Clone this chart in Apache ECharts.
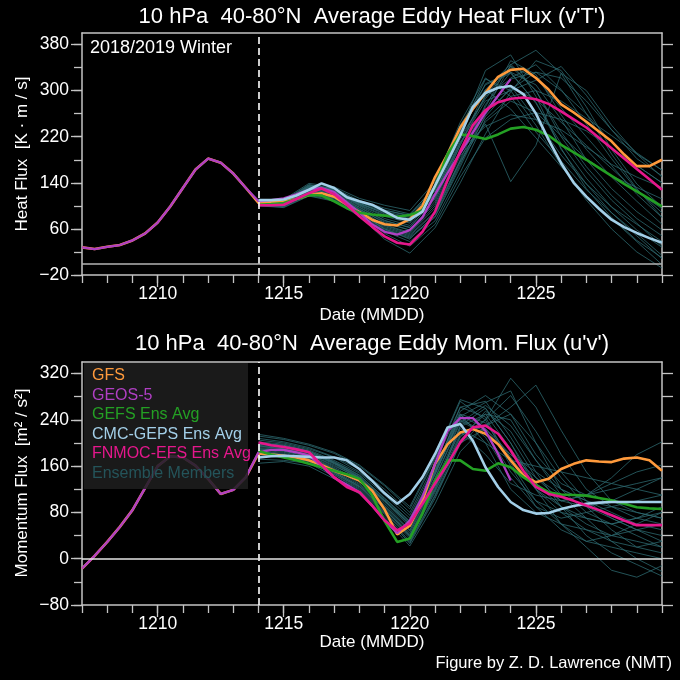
<!DOCTYPE html>
<html><head><meta charset="utf-8">
<script src="https://cdn.jsdelivr.net/npm/echarts@6/dist/echarts.min.js"></script>
<style>html,body{margin:0;padding:0;background:#000;}#c{width:680px;height:680px;}</style>
</head><body><div id="c"></div>
<script>
// ---------- x positions (day of December) ----------
const anaDays = [7,7.5,8,8.5,9,9.5,10,10.5,11,11.5,12,12.5,13,13.5];
const fcDays = [14,14.5,15,15.5,16,16.5,17,17.5,18,18.5,19,19.5,20,20.5,21,21.5,22,22.5,23,23.5,24,24.5,25,25.5,26,26.5,27,27.5,28,28.5,29,29.5,30];
const memDays = [14,15,16,17,18,19,20,21,22,23,24,25,26,27,28,29,30];
const xTickDays = [7,8,9,10,11,12,13,14,15,16,17,18,19,20,21,22,23,24,25,26,27,28,29,30];
const xLabelDays = [10,15,20,25];
const initDay = 14;

// ---------- Heat flux (top) ----------
const heatTicks = [-20,20,60,100,140,180,220,260,300,340,380];
const heatLabels = [-20,60,140,220,300,380];
const heatAna = [28,25,29,32,40,52,71,99,131,163,182,175,156,131];
const heatGFS = [105,106,107,112,119,122,116,102,89,76,68,66,77,100,150,190,236,268,296,324,336,338,322,302,276,262,246,229,212,189,169,169,180];
const heatGEOS = [108,110,113,120,128,131,124,106,88,68,55,50,58,80,120,157,192,227,262,291,320];
const heatGEFS = [102,103,105,112,119,118,108,96,88,85,83,81,84,92,134,190,224,221,216,224,234,237,232,222,206,193,180,166,152,138,125,112,99];
const heatCMC = [110,110,111,118,128,139,131,115,108,102,91,79,76,90,135,178,222,272,296,305,308,294,260,215,174,140,116,95,76,63,53,44,36];
const heatFNMOC = [101,101,102,112,122,130,120,102,82,64,47,36,33,55,90,145,195,240,266,280,286,288,285,277,264,250,236,218,200,182,164,146,128];
const heatMembers = [
 [104,103,128,121,95,70,58,108,205,292,342,300,228,168,118,78,48],
 [106,105,131,126,101,82,70,122,222,312,332,278,208,148,98,58,28],
 [102,100,122,115,89,58,44,80,168,258,322,345,302,242,182,128,88],
 [109,108,136,131,109,96,86,132,232,300,308,250,188,138,98,68,38],
 [100,97,117,108,82,42,18,62,140,225,298,352,335,272,198,138,98],
 [111,111,139,133,113,101,92,142,245,322,290,228,178,128,88,52,14],
 [103,102,125,118,92,67,54,100,192,272,352,328,258,198,150,108,68],
 [105,104,130,123,98,75,62,114,210,282,300,318,342,292,232,182,152],
 [107,106,133,127,103,88,78,126,228,335,362,290,198,138,88,48,8],
 [101,99,120,112,87,56,38,74,158,250,290,300,282,252,222,190,162],
 [110,109,137,129,107,93,82,130,238,302,268,218,168,118,78,38,-2],
 [104,103,127,119,94,72,58,104,196,238,258,250,232,202,172,150,132],
 [102,101,124,116,90,64,50,90,180,276,332,310,250,180,130,90,58],
 [106,105,131,124,100,78,66,118,215,290,320,332,300,260,210,170,140],
 [103,102,126,117,93,66,52,96,186,242,142,205,330,300,240,190,150],
 [108,107,134,129,105,86,74,122,220,286,342,322,270,220,170,120,80],
 [100,98,118,110,85,52,30,68,150,218,250,262,250,230,200,170,140],
 [105,104,129,121,97,74,63,112,206,302,346,300,220,160,110,70,30],
 [107,106,132,126,102,84,72,120,210,262,302,332,322,282,232,192,162],
 [101,100,121,113,89,60,42,86,176,246,282,262,222,182,152,132,112],
 [106,106,133,128,104,90,80,128,230,320,300,240,170,110,60,20,-8],
 [103,102,123,114,88,60,46,82,172,265,345,370,330,260,190,130,80],
 [108,108,135,130,106,92,84,135,240,310,330,280,200,130,80,40,10],
 [102,101,124,116,91,62,48,88,178,255,305,285,245,205,165,125,95]
];

// ---------- Momentum flux (bottom) ----------
const momTicks = [-80,-40,0,40,80,120,160,200,240,280,320];
const momLabels = [-80,0,80,160,240,320];
const momAna = [-17,5,29,55,84,122,160,177,175,161,138,112,119,141];
const momGFS = [182,180,178,175,170,162,152,144,135,118,85,42,57,100,164,198,218,224,216,198,170,144,132,138,155,164,170,168,167,173,175,170,152];
const momGEOS = [184,188,188,184,178,160,140,128,115,92,66,44,66,107,164,221,243,243,221,181,135];
const momGEFS = [186,180,175,170,164,158,152,146,138,110,65,29,35,78,135,170,170,155,152,165,158,141,127,115,111,110,109,105,101,95,89,87,86];
const momCMC = [175,177,178,177,176,175,175,170,155,135,113,95,112,141,181,227,233,204,158,124,98,84,78,79,86,91,95,97,98,98,98,98,98];
const momFNMOC = [201,196,193,189,184,162,141,124,115,92,66,49,61,95,130,164,201,227,230,216,187,152,124,112,107,100,92,84,75,66,58,58,58];
const momMembers = [
 [195,190,180,160,140,100,60,150,240,220,150,100,80,70,60,70,80],
 [185,180,172,150,125,85,40,120,230,260,200,130,90,60,40,30,20],
 [205,200,190,175,150,115,75,160,250,200,120,80,60,50,40,50,60],
 [172,170,165,142,116,72,28,108,198,240,282,220,150,100,70,50,40],
 [200,196,186,168,145,105,65,150,262,272,210,140,100,90,100,120,140],
 [190,186,176,155,130,90,45,130,220,180,130,110,100,110,130,150,162],
 [182,178,170,148,122,80,35,115,210,250,240,170,110,70,30,0,-22],
 [212,206,196,182,160,126,86,172,272,240,160,90,50,30,20,10,0],
 [188,184,174,152,128,88,42,125,215,230,262,300,222,150,100,80,70],
 [196,192,182,164,140,100,58,145,245,210,140,90,70,80,90,100,110],
 [178,175,168,146,120,78,30,110,205,255,220,150,90,40,10,-10,-30],
 [202,198,188,170,148,110,70,155,255,282,250,180,130,110,120,130,140],
 [186,182,172,150,126,86,40,122,225,200,170,160,150,140,130,120,110],
 [198,194,184,166,142,102,62,148,248,225,170,120,80,50,30,20,30],
 [192,188,178,158,135,95,50,138,235,265,230,170,120,100,80,60,50],
 [184,180,170,148,124,82,38,118,212,240,312,262,180,120,90,70,60],
 [194,190,180,162,138,98,55,140,238,215,180,150,120,100,90,80,70],
 [208,202,192,176,155,120,80,165,262,245,165,100,60,20,-20,-32,-12],
 [190,186,177,156,133,92,48,132,228,250,190,130,100,110,140,180,202],
 [200,196,186,167,144,104,64,152,250,235,175,120,90,70,60,70,90],
 [165,168,160,138,112,70,22,95,185,230,250,200,140,90,50,20,10],
 [215,208,198,184,162,128,90,175,275,260,200,120,60,30,40,60,80],
 [180,176,168,145,118,76,26,104,200,225,180,140,110,90,70,50,30],
 [198,194,184,165,141,100,60,146,246,270,290,200,120,80,60,40,20]
];

// ---------- styling ----------
const FONT = 'Liberation Sans, Arial, Helvetica, sans-serif';
const AXC = '#c4c4c4';
const C_GFS = '#ff9a3c', C_GEOS = '#b03fc4', C_GEFS = '#24a024', C_CMC = '#a3cfe8', C_FN = '#e5178c', C_MEM = 'rgba(46,108,114,0.85)';

function pairs(days, vals) { return vals.map((v, i) => [days[i], v]); }
function minus(v) { return String(v).replace('-', '\u2212'); }

function xAxes(g) {
  const base = {type: 'value', gridIndex: g, min: 7, max: 30, interval: 1, splitLine: {show: false}};
  return [
    Object.assign({}, base, {position: 'bottom',
      axisLine: {show: true, onZero: false, lineStyle: {color: AXC, width: 1.5}},
      axisTick: {show: true, length: 8, customValues: xTickDays, lineStyle: {color: AXC, width: 1.3}},
      axisLabel: {show: true, customValues: xLabelDays, formatter: v => '12' + v, color: '#fff', fontSize: 17.5, fontFamily: FONT, margin: 10}}),
    Object.assign({}, base, {position: 'bottom',
      axisLine: {show: false, onZero: false},
      axisTick: {show: true, length: 12, customValues: xLabelDays, lineStyle: {color: AXC, width: 1.3}},
      axisLabel: {show: false}}),
    Object.assign({}, base, {position: 'top',
      axisLine: {show: true, onZero: false, lineStyle: {color: AXC, width: 1.5}},
      axisTick: {show: false}, axisLabel: {show: false}})
  ];
}
function yAxes(g, min, max, ticks, labels) {
  const base = {type: 'value', gridIndex: g, min: min, max: max, interval: 20, splitLine: {show: false}};
  return [
    Object.assign({}, base, {position: 'left',
      axisLine: {show: true, onZero: false, lineStyle: {color: AXC, width: 1.5}},
      axisTick: {show: true, length: 8, customValues: ticks, lineStyle: {color: AXC, width: 1.3}},
      axisLabel: {show: true, customValues: labels, formatter: minus, color: '#fff', fontSize: 17.5, fontFamily: FONT, margin: 13}}),
    Object.assign({}, base, {position: 'left',
      axisLine: {show: false, onZero: false},
      axisTick: {show: true, length: 11, customValues: labels, lineStyle: {color: AXC, width: 1.3}},
      axisLabel: {show: false}}),
    Object.assign({}, base, {position: 'right',
      axisLine: {show: true, onZero: false, lineStyle: {color: AXC, width: 1.5}},
      axisTick: {show: true, length: 11, customValues: ticks, lineStyle: {color: AXC, width: 1.3}},
      axisLabel: {show: false}})
  ];
}

function line(name, data, color, width, axis, z, extra) {
  return Object.assign({
    name: name, type: 'line', data: data, xAxisIndex: axis, yAxisIndex: axis,
    showSymbol: false, symbol: 'none', silent: true, z: z,
    lineStyle: {color: color, width: width}
  }, extra || {});
}

function panelSeries(axis, ana, gfs, geos, gefs, cmc, fn, members, zeroColor) {
  const s = [];
  members.forEach((m, i) => s.push(line('Member ' + (i + 1), pairs(memDays, m), C_MEM, 0.9, axis, 2)));
  s.push(line('GFS', pairs(anaDays, ana).concat(pairs(fcDays, gfs)), C_GFS, 2.6, axis, 3, {
    markLine: {silent: true, symbol: ['none', 'none'], label: {show: false}, animation: false,
      data: [
        {xAxis: initDay, lineStyle: {color: '#ffffff', width: 1.6, type: [7, 4]}},
        {yAxis: 0, lineStyle: {color: zeroColor, width: 1.5, type: 'solid'}}
      ]}
  }));
  s.push(line('GEOS-5', pairs(anaDays, ana).concat(pairs(fcDays, geos)), C_GEOS, 2.3, axis, 4));
  s.push(line('GEFS Ens Avg', pairs(fcDays, gefs), C_GEFS, 2.6, axis, 4));
  s.push(line('CMC-GEPS Ens Avg', pairs(fcDays, cmc), C_CMC, 2.6, axis, 4));
  s.push(line('FNMOC-EFS Ens Avg', pairs(fcDays, fn), C_FN, 2.6, axis, 4));
  return s;
}

const legendItems = [
  ['GFS', C_GFS], ['GEOS-5', C_GEOS], ['GEFS Ens Avg', C_GEFS],
  ['CMC-GEPS Ens Avg', C_CMC], ['FNMOC-EFS Ens Avg', C_FN], ['Ensemble Members', '#24545a']
];

const graphics = [
  {type: 'text', x: 372, y: 17, z: 50, style: {text: "10 hPa  40-80\u00B0N  Average Eddy Heat Flux (v'T')", fill: '#fff', fontSize: 22, fontFamily: FONT, align: 'center', verticalAlign: 'middle'}},
  {type: 'text', x: 372, y: 344, z: 50, style: {text: "10 hPa  40-80\u00B0N  Average Eddy Mom. Flux (u'v')", fill: '#fff', fontSize: 22, fontFamily: FONT, align: 'center', verticalAlign: 'middle'}},
  {type: 'text', x: 22, y: 154, rotation: Math.PI / 2, z: 50, style: {text: 'Heat Flux  [K \u00B7 m / s]', fill: '#fff', fontSize: 17, fontFamily: FONT, align: 'center', verticalAlign: 'middle'}},
  {type: 'text', x: 22, y: 483, rotation: Math.PI / 2, z: 50, style: {text: 'Momentum Flux  [m\u00B2 / s\u00B2]', fill: '#fff', fontSize: 17, fontFamily: FONT, align: 'center', verticalAlign: 'middle'}},
  {type: 'text', x: 372, y: 315, z: 50, style: {text: 'Date (MMDD)', fill: '#fff', fontSize: 17, fontFamily: FONT, align: 'center', verticalAlign: 'middle'}},
  {type: 'text', x: 372, y: 642, z: 50, style: {text: 'Date (MMDD)', fill: '#fff', fontSize: 17, fontFamily: FONT, align: 'center', verticalAlign: 'middle'}},
  {type: 'text', x: 672, y: 663, z: 50, style: {text: 'Figure by Z. D. Lawrence (NMT)', fill: '#fff', fontSize: 16.5, fontFamily: FONT, align: 'right', verticalAlign: 'middle'}},
  {type: 'text', x: 90, y: 48, z: 50, style: {text: '2018/2019 Winter', fill: '#fff', fontSize: 18, fontFamily: FONT, align: 'left', verticalAlign: 'middle'}},
  {type: 'rect', x: 84, y: 363, z: 60, shape: {width: 164, height: 126}, style: {fill: 'rgba(30,30,30,0.85)'}}
];
legendItems.forEach((it, i) => {
  graphics.push({type: 'text', x: 92, y: 375.5 + i * 19.6, z: 61, style: {text: it[0], fill: it[1], fontSize: 16, fontFamily: FONT, align: 'left', verticalAlign: 'middle'}});
});

const option = {
  backgroundColor: '#000',
  animation: false,
  grid: [
    {left: 82, top: 33, width: 580, height: 242},
    {left: 82, top: 362, width: 580, height: 243}
  ],
  xAxis: xAxes(0).concat(xAxes(1)),
  yAxis: yAxes(0, -20, 400, heatTicks, heatLabels).concat(yAxes(1, -80, 340, momTicks, momLabels)),
  series: panelSeries(0, heatAna, heatGFS, heatGEOS, heatGEFS, heatCMC, heatFNMOC, heatMembers, '#b4b4b4')
    .concat(panelSeries(3, momAna, momGFS, momGEOS, momGEFS, momCMC, momFNMOC, momMembers, '#e6e6e6')),
  graphic: graphics
};

const chart = echarts.init(document.getElementById('c'), null, {renderer: 'canvas'});
chart.setOption(option);
</script>
</body></html>
